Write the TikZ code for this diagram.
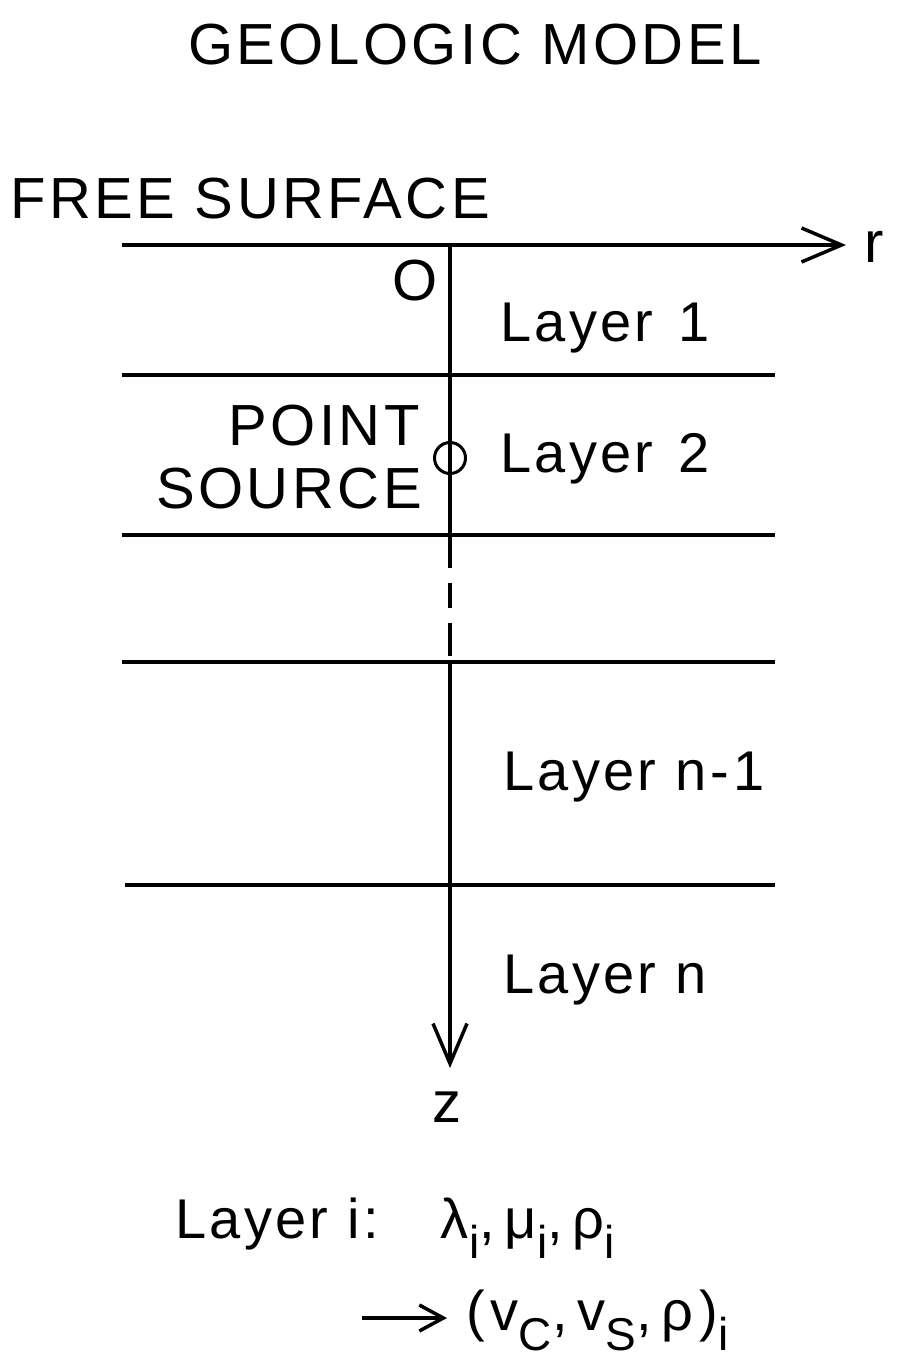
\documentclass[tikz,border=0pt]{standalone}
\usepackage{fontspec}
\setmainfont{Liberation Sans}[LetterSpace=6]
\usetikzlibrary{arrows.meta}
\newcommand\lsub[1]{\raisebox{-20pt}{\fontsize{46}{46}\selectfont #1}}
\begin{document}
\begin{tikzpicture}[x=1pt,y=-1pt,
  ln/.style={line width=3.5pt},
  barb/.style={-{Straight Barb[length=40pt,width=34pt,line width=3.5pt]}},
  smallbarb/.style={-{Straight Barb[length=24pt,width=26pt,line width=3.5pt]}},
  big/.style={inner sep=0pt,font=\fontsize{58}{60}\selectfont},
  lay/.style={inner sep=0pt,anchor=base west,font=\fontsize{56}{60}\selectfont}]
\useasboundingbox (0,0) rectangle (902,1362);
% texts
\node[big,anchor=base] (title) at (475,65) {GEOLOGIC MODEL};
\node[big,anchor=base west] (free) at (10,218) {FREE SURFACE};
\node[big,anchor=base] (r) at (874,262) {r};
\node[big,anchor=base] (O) at (415,300) {O};
\node[lay] (l1) at (500,341) {Layer \hskip 6pt1};
\node[big,anchor=base east] (point) at (420,445) {POINT};
\node[big,anchor=base east] (source) at (422,508) {SOURCE};
\node[lay] (l2) at (500,472) {Layer \hskip 6pt2};
\node[lay] (ln1) at (503,790) {Layer n\hskip 4pt-\hskip 4pt1};
\node[lay] (ln) at (503,993) {Layer n};
\node[big,anchor=base] (z) at (447,1122) {z};
\node[lay] (li) at (175,1238) {Layer i:\hskip 62pt λ\lsub{i},\hskip 10pt μ\lsub{i},\hskip 10pt ρ\lsub{i}};
\node[lay] (vv) at (466,1330) {(\hskip 6pt v\lsub{C},\hskip 10pt v\lsub{S},\hskip 10pt ρ\hskip 6pt)\lsub{i}};
% coordinates
\coordinate (hl) at (122,245);
\coordinate (hr) at (846,245);
\coordinate (top) at (450,245);
\coordinate (zend) at (450,1068);
\coordinate (arl) at (362,1318);
% axes
\draw[ln,barb] (hl) -- (hr);
\draw[ln] (top) -- (450,535);
\draw[ln,dash pattern=on 33pt off 15pt on 25pt off 15pt] (450,535) -- (450,662);
\draw[ln,barb] (450,662) -- (zend);
% layer lines
\coordinate (a1) at (122,375); \coordinate (b1) at (775,375);
\coordinate (a2) at (122,535); \coordinate (b2) at (775,535);
\coordinate (a3) at (122,662); \coordinate (b3) at (775,662);
\coordinate (a4) at (125,885); \coordinate (b4) at (775,885);
\draw[ln] (a1) -- (b1);
\draw[ln] (a2) -- (b2);
\draw[ln] (a3) -- (b3);
\draw[ln] (a4) -- (b4);
% point source
\node[draw,circle,line width=3pt,minimum size=31pt,inner sep=0pt] (src) at (450,458) {};
% arrow in legend
\coordinate (arr) at (447,1318);
\draw[ln,smallbarb] (arl) -- (arr);
\end{tikzpicture}
\end{document}
